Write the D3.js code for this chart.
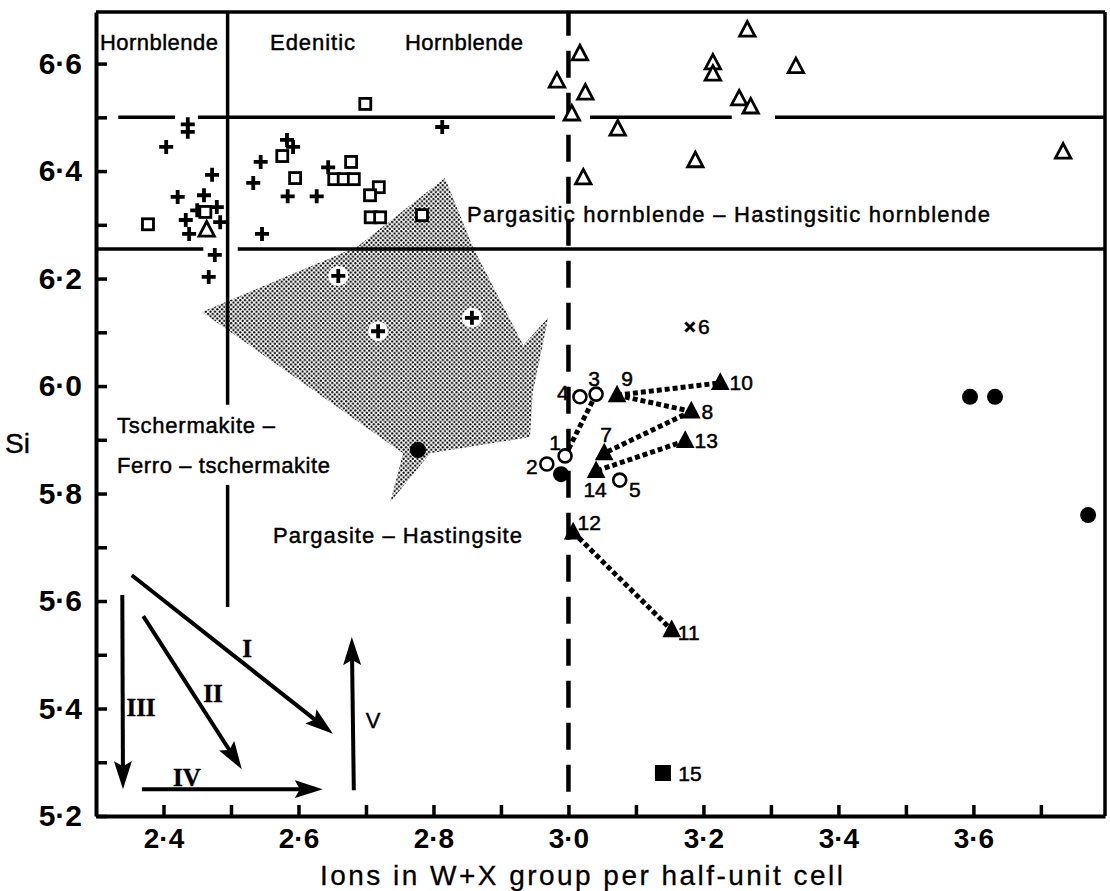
<!DOCTYPE html>
<html>
<head>
<meta charset="utf-8">
<script src="https://cdn.jsdelivr.net/npm/d3@7"></script>
<style>
  html, body { margin: 0; padding: 0; background: #fff; }
  svg { display: block; font-family: "Liberation Sans", Arial, Helvetica, sans-serif; }
  text { fill: #000; }
</style>
</head>
<body>
<svg id="chart" width="1110" height="891"></svg>
<script>
// ---------------- DATA ----------------
const xTickValues = [2.4, 2.5, 2.6, 2.7, 2.8, 2.9, 3.0, 3.1, 3.2, 3.3, 3.4, 3.5, 3.6, 3.7];
const xTickLabels = { "2.4": "2·4", "2.6": "2·6", "2.8": "2·8", "3.0": "3·0", "3.2": "3·2", "3.4": "3·4", "3.6": "3·6" };
const yTickValues = [5.2, 5.3, 5.4, 5.5, 5.6, 5.7, 5.8, 5.9, 6.0, 6.1, 6.2, 6.3, 6.4, 6.5, 6.6];
const yTickLabels = { "5.2": "5·2", "5.4": "5·4", "5.6": "5·6", "5.8": "5·8", "6.0": "6·0", "6.2": "6·2", "6.4": "6·4", "6.6": "6·6" };
const xTitle = "Ions in W+X group per half-unit cell";
const yTitle = "Si";

// crosses (+)
const crossX = [2.436, 2.436, 2.404, 2.472, 2.421, 2.460, 2.450, 2.479, 2.433, 2.484, 2.438, 2.476, 2.467,
                2.583, 2.592, 2.544, 2.533, 2.584, 2.627, 2.644, 2.546, 2.813, 2.659, 2.718, 2.857];
const crossY = [6.487, 6.473, 6.445, 6.393, 6.352, 6.355, 6.327, 6.333, 6.309, 6.305, 6.283, 6.244, 6.203,
                6.458, 6.445, 6.417, 6.378, 6.353, 6.353, 6.407, 6.283, 6.482, 6.205, 6.102, 6.127];
// open squares
const sqX = [2.377, 2.699, 2.576, 2.595, 2.678, 2.653, 2.667, 2.682, 2.719, 2.706, 2.707, 2.721, 2.783, 2.462];
const sqY = [6.301, 6.525, 6.428, 6.387, 6.417, 6.385, 6.385, 6.385, 6.370, 6.355, 6.314, 6.314, 6.318, 6.324];
// open triangles
const triX = [3.017, 2.983, 3.025, 3.005, 3.073, 3.022, 3.265, 3.214, 3.214, 3.337, 3.253, 3.270, 3.188, 3.733, 2.464];
const triY = [6.618, 6.567, 6.545, 6.506, 6.478, 6.387, 6.662, 6.601, 6.580, 6.594, 6.534, 6.519, 6.419, 6.435, 6.290];
// filled circles
const dotX = [2.777, 2.989, 3.595, 3.632, 3.770];
const dotY = [5.881, 5.836, 5.980, 5.980, 5.760];
// numbered open circles
const ocId = [1, 2, 3, 4, 5];
const ocX = [2.995, 2.968, 3.041, 3.017, 3.076];
const ocY = [5.870, 5.855, 5.985, 5.980, 5.825];
// numbered filled triangles
const ftId = [7, 8, 9, 10, 11, 12, 13, 14];
const ftX = [3.053, 3.182, 3.072, 3.225, 3.153, 3.007, 3.173, 3.041];
const ftY = [5.875, 5.953, 5.983, 6.006, 5.546, 5.728, 5.898, 5.842];
// x-mark 6 and filled square 15
const xmId = [6], xmX = [3.180], xmY = [6.110];
const fsId = [15], fsX = [3.140], fsY = [5.280];
// dotted tie lines (pairs of ids)
const links = [[1, 3], [9, 10], [9, 8], [8, 7], [13, 14], [12, 11]];

// stippled field outline
const fieldX = [2.457, 2.687, 2.817, 2.859, 2.933, 2.970, 2.947, 2.943, 2.795, 2.736, 2.755];
const fieldY = [6.138, 6.259, 6.387, 6.257, 6.076, 6.127, 5.987, 5.905, 5.875, 5.784, 5.875];

// classification boundaries
const hLineA = 6.5, hLineAParts = [[2.333, 2.417], [2.451, 2.980], [3.032, 3.242], [3.306, 3.795]];
const hLineB = 6.255, hLineBParts = [[2.3, 2.459], [2.510, 3.795]];
const vLineA = 2.495, vLineAParts = [[5.965, 6.696], [5.589, 5.816]];
const vDash = 3.0, vDashRange = [5.245, 6.696];

// region names
const regionText = ["Hornblende", "Edenitic", "Hornblende",
  "Pargasitic  hornblende  \u2013  Hastingsitic  hornblende",
  "Tschermakite \u2013", "Ferro \u2013 tschermakite", "Pargasite  \u2013  Hastingsite"];

// substitution vectors
const vecName = ["I", "II", "III", "IV", "V"];
const vecX0 = [2.353, 2.370, 2.339, 2.368, 2.682];
const vecY0 = [5.648, 5.572, 5.611, 5.250, 5.248];
const vecX1 = [2.651, 2.516, 2.340, 2.636, 2.679];
const vecY1 = [5.353, 5.287, 5.250, 5.250, 5.533];

// ---------------- LAYOUT ----------------
const SANS = "'Liberation Sans', Arial, Helvetica, sans-serif";
const SERIF = "'Liberation Serif', 'DejaVu Serif', 'Times New Roman', serif";
const x = d3.scaleLinear().domain([2.3, 3.795]).range([96, 1105]);
const y = d3.scaleLinear().domain([5.2, 6.696]).range([816, 12]);
const svg = d3.select("#chart");

// stipple pattern
const defs = svg.append("defs");
const pat = defs.append("pattern").attr("id", "stip").attr("patternUnits", "userSpaceOnUse")
  .attr("width", 4.6).attr("height", 4.6);
pat.append("circle").attr("cx", 1.15).attr("cy", 1.15).attr("r", 1.12).attr("fill", "#000");
pat.append("circle").attr("cx", 3.45).attr("cy", 3.45).attr("r", 1.12).attr("fill", "#000");

const mk = defs.append("marker").attr("id", "ah").attr("markerUnits", "userSpaceOnUse")
  .attr("markerWidth", 30).attr("markerHeight", 20).attr("viewBox", "0 0 30 20")
  .attr("refX", 28).attr("refY", 10).attr("orient", "auto");
mk.append("path").attr("d", "M0,1 L28,10 L0,19 L5,10 Z").attr("fill", "#000");

// stippled field
const fieldPts = fieldX.map((v, i) => [x(v), y(fieldY[i])]);
svg.append("path").attr("d", d3.line()(fieldPts) + "Z").attr("fill", "url(#stip)").attr("stroke", "none");

// boundaries
const g = svg.append("g").attr("stroke", "#000").attr("stroke-width", 3.5).attr("fill", "none");
hLineAParts.forEach(p => g.append("line").attr("x1", x(p[0])).attr("x2", x(p[1])).attr("y1", y(hLineA)).attr("y2", y(hLineA)));
hLineBParts.forEach(p => g.append("line").attr("x1", x(p[0])).attr("x2", x(p[1])).attr("y1", y(hLineB)).attr("y2", y(hLineB)));
vLineAParts.forEach(p => g.append("line").attr("x1", x(vLineA)).attr("x2", x(vLineA)).attr("y1", y(p[0])).attr("y2", y(p[1])));
g.append("line").attr("x1", x(vDash)).attr("x2", x(vDash)).attr("y1", y(vDashRange[0])).attr("y2", y(vDashRange[1]))
  .attr("stroke-width", 4.5).attr("stroke-dasharray", "27,15");

// axes
const xAxis = d3.axisBottom(x).tickValues(xTickValues).tickSizeInner(-11).tickSizeOuter(0).tickPadding(12)
  .tickFormat(d => xTickLabels[d.toFixed(1)] || "");
const xg = svg.append("g").attr("transform", `translate(0,${y(5.2)})`).call(xAxis);
const yAxis = d3.axisLeft(y).tickValues(yTickValues).tickSizeInner(-11).tickSizeOuter(0).tickPadding(14)
  .tickFormat(d => yTickLabels[d.toFixed(1)] || "");
const yg = svg.append("g").attr("transform", `translate(${x(2.3)},0)`).call(yAxis);
[xg, yg].forEach(a => {
  a.selectAll(".domain").attr("stroke", "#000").attr("stroke-width", 4);
  a.selectAll(".tick line").attr("stroke", "#000").attr("stroke-width", 3.5);
  a.selectAll(".tick text").style("font-weight", "bold").style("fill", "#000").style("font-family", SANS);
});
xg.selectAll(".tick text").style("font-size", "28px");
yg.selectAll(".tick text").style("font-size", "30px");
// top and right frame
svg.append("line").attr("x1", x(2.3)).attr("x2", x(3.795)).attr("y1", y(6.696)).attr("y2", y(6.696)).attr("stroke", "#000").attr("stroke-width", 3.5);
svg.append("line").attr("x1", x(3.795)).attr("x2", x(3.795)).attr("y1", y(6.696)).attr("y2", y(5.2)).attr("stroke", "#000").attr("stroke-width", 3.5);

// axis titles
svg.append("text").attr("x", 320).attr("y", 885).style("font-size", "28px").style("font-family", SANS)
  .attr("stroke", "#000").attr("stroke-width", 0.3)
  .attr("textLength", 523).attr("lengthAdjust", "spacing").text(xTitle);
svg.append("text").attr("x", 5).attr("y", 453).style("font-size", "28px").style("font-family", SANS)
  .attr("stroke", "#000").attr("stroke-width", 0.4).text(yTitle);

// region labels
const regionLayout = [
  { x: 100, y: 50, w: 118 }, { x: 270, y: 50, w: 85 }, { x: 405, y: 50, w: 118 },
  { x: 467, y: 222, w: 523 }, { x: 117, y: 433, w: 158 }, { x: 117, y: 473, w: 213 }, { x: 273, y: 543, w: 249 }];
regionText.forEach((t, i) => {
  const L = regionLayout[i];
  svg.append("text").attr("x", L.x).attr("y", L.y).style("font-size", "22px").style("font-family", SANS)
    .attr("stroke", "#000").attr("stroke-width", 0.45)
    .attr("textLength", L.w).attr("lengthAdjust", "spacing").text(t);
});

// vectors
const vecLabelPos = [[247, 657, "serif"], [213, 702, "serif"], [141, 716, "serif"], [187, 786, "serif"], [373, 728, "sans"]];
vecName.forEach((n, i) => {
  const x0 = x(vecX0[i]), y0 = y(vecY0[i]), x1 = x(vecX1[i]), y1 = y(vecY1[i]);
  const len = Math.hypot(x1 - x0, y1 - y0), ux = (x1 - x0) / len, uy = (y1 - y0) / len;
  svg.append("line").attr("x1", x0).attr("y1", y0).attr("x2", x1 - ux * 14).attr("y2", y1 - uy * 14)
    .attr("stroke", "#000").attr("stroke-width", 4);
  svg.append("line").attr("x1", x1 - ux * 2).attr("y1", y1 - uy * 2).attr("x2", x1).attr("y2", y1)
    .attr("stroke", "none").attr("marker-end", "url(#ah)");
  const P = vecLabelPos[i];
  svg.append("text").attr("x", P[0]).attr("y", P[1]).attr("text-anchor", "middle")
    .style("font-size", P[2] === "serif" ? "25px" : "22px")
    .style("font-weight", P[2] === "serif" ? "bold" : "normal")
    .style("font-family", P[2] === "serif" ? SERIF : SANS)
    .attr("stroke", "#000").attr("stroke-width", 0.4)
    .text(n);
});

// tie lines
const posById = {};
ocId.forEach((id, i) => posById[id] = [x(ocX[i]), y(ocY[i])]);
ftId.forEach((id, i) => posById[id] = [x(ftX[i]), y(ftY[i])]);
links.forEach(l => {
  const a = posById[l[0]], b = posById[l[1]];
  svg.append("line").attr("x1", a[0]).attr("y1", a[1]).attr("x2", b[0]).attr("y2", b[1])
    .attr("stroke", "#000").attr("stroke-width", 5).attr("stroke-dasharray", "5,3");
});

// crosses (white halo where inside stippled field)
crossX.forEach((v, i) => {
  const px = x(v), py = y(crossY[i]);
  if (d3.polygonContains(fieldPts, [px, py]))
    svg.append("circle").attr("cx", px).attr("cy", py).attr("r", 10).attr("fill", "#fff");
  svg.append("path").attr("d", `M${px - 7},${py}H${px + 7}M${px},${py - 7}V${py + 7}`)
    .attr("stroke", "#000").attr("stroke-width", 3.8).attr("fill", "none");
});
// open squares
sqX.forEach((v, i) => {
  svg.append("rect").attr("x", x(v) - 5.5).attr("y", y(sqY[i]) - 5.5).attr("width", 11).attr("height", 11)
    .attr("fill", "#fff").attr("stroke", "#000").attr("stroke-width", 2.8);
});
// open triangles
const triPath = (px, py, s) => `M${px},${py - s * 0.62}L${px + s * 0.55},${py + s * 0.42}L${px - s * 0.55},${py + s * 0.42}Z`;
triX.forEach((v, i) => {
  svg.append("path").attr("d", triPath(x(v), y(triY[i]), 14))
    .attr("fill", "#fff").attr("stroke", "#000").attr("stroke-width", 2.8).attr("stroke-linejoin", "miter");
});
// filled circles
dotX.forEach((v, i) => svg.append("circle").attr("cx", x(v)).attr("cy", y(dotY[i])).attr("r", 8).attr("fill", "#000"));
// open circles
ocX.forEach((v, i) => svg.append("circle").attr("cx", x(v)).attr("cy", y(ocY[i])).attr("r", 6.5)
  .attr("fill", "#fff").attr("stroke", "#000").attr("stroke-width", 2.6));
// filled triangles
ftX.forEach((v, i) => svg.append("path").attr("d", triPath(x(v), y(ftY[i]), 17)).attr("fill", "#000"));
// x mark
xmX.forEach((v, i) => {
  const px = x(v), py = y(xmY[i]);
  svg.append("path").attr("d", `M${px - 4.5},${py - 4.5}L${px + 4.5},${py + 4.5}M${px + 4.5},${py - 4.5}L${px - 4.5},${py + 4.5}`)
    .attr("stroke", "#000").attr("stroke-width", 3);
});
// filled square
fsX.forEach((v, i) => svg.append("rect").attr("x", x(v) - 8).attr("y", y(fsY[i]) - 8).attr("width", 16).attr("height", 16).attr("fill", "#000"));

// number labels
const numOffset = { 1: [-10, -13], 2: [-15, 3], 3: [-2, -16], 4: [-17, -4], 5: [15, 9], 6: [14, 0], 7: [2, -19],
  8: [16, 0], 9: [10, -17], 10: [21, 0], 11: [17, 2], 12: [16, -10], 13: [21, 0], 14: [-1, 19], 15: [27, 0] };
const allNums = [];
ocId.forEach((id, i) => allNums.push([id, x(ocX[i]), y(ocY[i])]));
ftId.forEach((id, i) => allNums.push([id, x(ftX[i]), y(ftY[i])]));
xmId.forEach((id, i) => allNums.push([id, x(xmX[i]), y(xmY[i])]));
fsId.forEach((id, i) => allNums.push([id, x(fsX[i]), y(fsY[i])]));
allNums.forEach(([id, px, py]) => {
  const o = numOffset[id];
  svg.append("text").attr("x", px + o[0]).attr("y", py + o[1]).attr("text-anchor", "middle")
    .attr("dominant-baseline", "central").style("font-size", "21px").style("font-family", SANS)
    .attr("stroke", "#000").attr("stroke-width", 0.5).text(id);
});
</script>
</body>
</html>
